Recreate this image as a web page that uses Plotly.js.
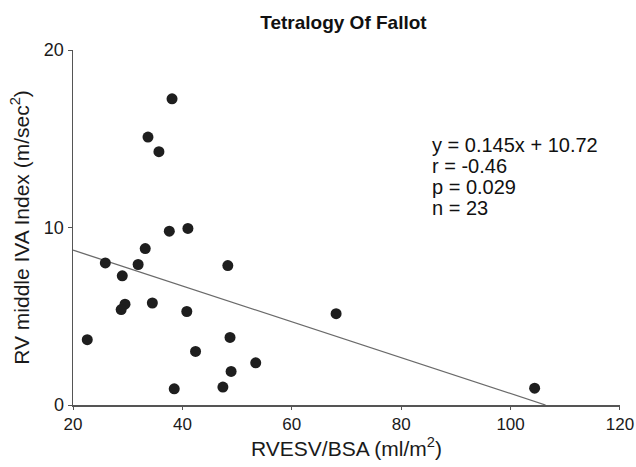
<!DOCTYPE html>
<html>
<head>
<meta charset="utf-8">
<script src="https://cdn.plot.ly/plotly-3.0.1.min.js"></script>
<style>html,body{margin:0;padding:0;background:#fff;}#chart{width:636px;height:467px;}</style>
</head>
<body>
<div id="chart"></div>
<script>
// RVESV/BSA (ml/m²)
const rvesvBsa = [38.1, 33.7, 35.7, 37.6, 41.0, 33.2, 25.9, 31.9, 48.3, 29.0, 29.5, 28.8, 34.5, 40.8, 22.6, 48.7, 42.4, 53.4, 48.9, 38.5, 47.4, 68.1, 104.4];
// RV middle IVA Index (m/sec²)
const ivaIndex = [17.26, 15.1, 14.28, 9.80, 9.95, 8.82, 8.01, 7.92, 7.86, 7.28, 5.68, 5.38, 5.75, 5.27, 3.68, 3.81, 3.02, 2.38, 1.89, 0.91, 1.01, 5.15, 0.95];
// regression line as drawn
const fitX = [20, 106.4];
const fitY = [8.73, 0];
const statsLines = ["y = 0.145x + 10.72", "r = -0.46", "p = 0.029", "n = 23"];
const xTicks = [20, 40, 60, 80, 100, 120];
const yTicks = [0, 10, 20];

const font = "Liberation Sans, Arial, sans-serif";

const traces = [
  {x: fitX, y: fitY, mode: "lines", type: "scatter",
   line: {color: "#6a6a6a", width: 1.3}, hoverinfo: "skip", showlegend: false},
  {x: rvesvBsa, y: ivaIndex, mode: "markers", type: "scatter",
   marker: {color: "#1e1e1e", size: 11, symbol: "circle"}, showlegend: false}
];

const plotL = 73, plotT = 50, plotW = 547, plotH = 355;
const lineTop = 145, lineStep = 21, textLeft = 430;

const layout = {
  width: 636, height: 467,
  margin: {l: plotL, r: 636 - plotL - plotW, t: plotT, b: 467 - plotT - plotH},
  paper_bgcolor: "#fff", plot_bgcolor: "#fff",
  font: {family: font, color: "#1a1a1a", size: 18},
  title: {text: "Tetralogy Of Fallot", font: {family: font, size: 19, color: "#111", weight: "bold"},
          x: 0.54, xanchor: "center", y: 0.953, yanchor: "middle"},
  xaxis: {range: [19.99, 120.01], tickvals: xTicks, ticktext: xTicks.map(String),
          ticklabeloverflow: "allow",
          showline: true, linecolor: "#555", linewidth: 1.5, showgrid: false, zeroline: false,
          ticks: "outside", ticklen: 3, tickcolor: "#555", tickfont: {size: 17, color: "#1a1a1a"},
          title: {text: "RVESV/BSA (ml/m<sup>2</sup>)", font: {size: 21}, standoff: 6}},
  yaxis: {range: [0, 20.01], tickvals: yTicks, ticktext: yTicks.map(String),
          ticklabeloverflow: "allow",
          showline: true, linecolor: "#555", linewidth: 1.5, showgrid: false, zeroline: false,
          ticks: "outside", ticklen: 4, tickcolor: "#555", tickfont: {size: 18, color: "#1a1a1a"},
          title: {text: "RV middle IVA Index (m/sec<sup>2</sup>)", font: {size: 21}, standoff: 8}},
  annotations: statsLines.map((t, i) => ({
    xref: "paper", yref: "paper",
    x: (textLeft - plotL) / plotW,
    y: (plotT + plotH - (lineTop + i * lineStep)) / plotH,
    xanchor: "left", yanchor: "middle", align: "left", showarrow: false,
    text: t, font: {family: font, size: 20, color: "#111"}
  }))
};

Plotly.newPlot("chart", traces, layout, {staticPlot: true, displayModeBar: false});
</script>
</body>
</html>
